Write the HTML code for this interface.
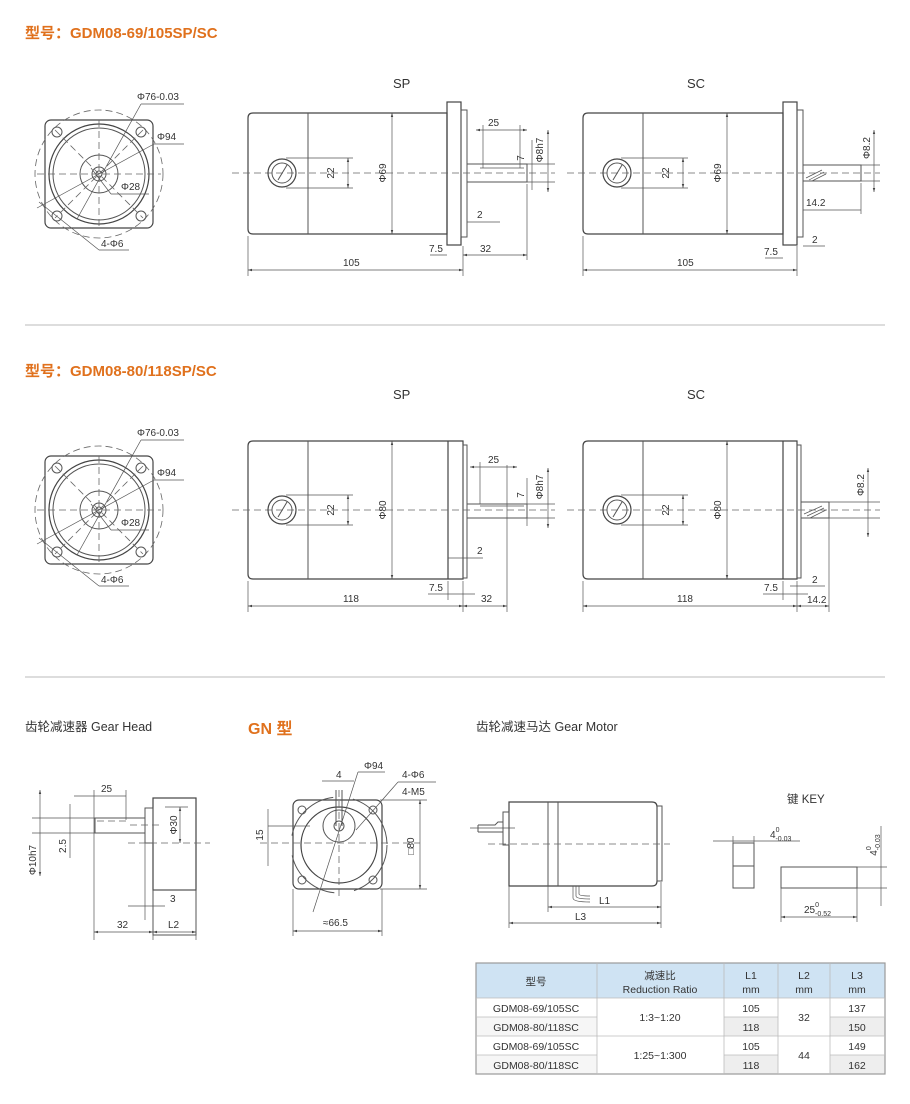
<!DOCTYPE html>
<html><head><meta charset="utf-8"><style>
html,body{margin:0;padding:0;background:#fff;}
svg{display:block;}
text{font-family:"Liberation Sans","Noto Sans CJK SC",sans-serif;fill:#333;}
.t{font-size:10px;}
.ln{stroke:#555;stroke-width:1;fill:none;}
.th{stroke:#444;stroke-width:1.2;fill:none;}
.d{stroke:#666;stroke-width:0.8;fill:none;stroke-dasharray:7 4;}
.dm{stroke:#555;stroke-width:0.7;fill:none;}
.or{fill:#e0711d;font-size:15px;font-weight:bold;}
</style></head><body>
<svg width="910" height="1104" viewBox="0 0 910 1104" xmlns="http://www.w3.org/2000/svg">
<defs>
<marker id="a" viewBox="0 0 10 10" refX="10" refY="5" markerWidth="6" markerHeight="6" orient="auto-start-reverse"><path d="M0,2 L10,5 L0,8 z" fill="#444"/></marker>
<g id="front">
  <rect x="-54" y="-54" width="108" height="108" rx="6" class="th"/>
  <circle r="64" class="d"/>
  <circle r="50" class="th"/><circle r="46" class="ln"/>
  <circle r="19" class="ln"/><circle r="7" class="ln"/><circle r="3" class="ln"/>
  <circle cx="-42" cy="-42" r="5" class="ln"/><circle cx="42" cy="-42" r="5" class="ln"/>
  <circle cx="-42" cy="42" r="5" class="ln"/><circle cx="42" cy="42" r="5" class="ln"/>
  <line x1="-62" y1="0" x2="62" y2="0" class="d"/><line x1="0" y1="-54" x2="0" y2="54" class="d"/>
  <line x1="-44" y1="-44" x2="44" y2="44" class="d"/><line x1="44" y1="-44" x2="-44" y2="44" class="d"/>
  <line x1="-22" y1="45" x2="42" y2="-70" class="dm"/><line x1="42" y1="-70" x2="85" y2="-70" class="dm"/>
  <line x1="-62" y1="34" x2="55" y2="-30" class="dm"/><line x1="55" y1="-30" x2="85" y2="-30" class="dm"/>
  <line x1="-8" y1="-6" x2="12" y2="20" class="dm"/><line x1="12" y1="20" x2="50" y2="20" class="dm"/>
  <line x1="-60" y1="28" x2="0" y2="76" class="dm"/><line x1="0" y1="76" x2="30" y2="76" class="dm"/>
  <text x="38" y="-74" class="t">Φ76-0.03</text>
  <text x="58" y="-34" class="t">Φ94</text>
  <text x="22" y="16" class="t">Φ28</text>
  <text x="2" y="73" class="t">4-Φ6</text>
</g>
</defs>

<!-- Section 1 -->
<text x="25" y="38" class="or">型号：GDM08-69/105SP/SC</text>
<use href="#front" x="99" y="174"/>
<text x="393" y="88" font-size="13">SP</text>
<text x="687" y="88" font-size="13">SC</text>

<g>
<path d="M253,113 H447 V234 H253 Q248,234 248,229 V118 Q248,113 253,113Z" class="th"/>
<line x1="308" y1="113" x2="308" y2="234" class="ln"/>
<line x1="392" y1="113" x2="392" y2="234" class="dm" marker-start="url(#a)" marker-end="url(#a)"/>
<rect x="447" y="102" width="14" height="143" class="th"/><rect x="461" y="110" width="6" height="127" class="ln"/>
<rect x="467" y="164" width="60" height="18" class="ln"/><line x1="480" y1="168" x2="524" y2="168" class="dm"/>
<line x1="232" y1="173" x2="555" y2="173" class="d"/>
<circle cx="282" cy="173" r="14" class="th"/><circle cx="282" cy="173" r="10" class="ln"/>
<line x1="278" y1="180" x2="287" y2="165" class="ln"/>
<line x1="286" y1="158" x2="353" y2="158" class="dm"/><line x1="286" y1="188" x2="353" y2="188" class="dm"/>
<line x1="348" y1="158" x2="348" y2="188" class="dm" marker-start="url(#a)" marker-end="url(#a)"/>
<text transform="translate(334,173) rotate(-90)" text-anchor="middle" class="t">22</text>
<text transform="translate(386,173) rotate(-90)" text-anchor="middle" class="t">Φ69</text>
<line x1="248" y1="236" x2="248" y2="276" class="dm"/><line x1="463" y1="246" x2="463" y2="276" class="dm"/>
<line x1="248" y1="270" x2="463" y2="270" class="dm" marker-start="url(#a)" marker-end="url(#a)"/>
<text x="343" y="266" class="t">105</text>
<line x1="430" y1="255" x2="447" y2="255" class="dm"/><text x="429" y="252" class="t">7.5</text>
<line x1="463" y1="255" x2="527" y2="255" class="dm" marker-start="url(#a)" marker-end="url(#a)"/><text x="480" y="252" class="t">32</text>
<line x1="527" y1="184" x2="527" y2="260" class="dm"/>
<line x1="483" y1="125" x2="483" y2="168" class="dm"/><line x1="520" y1="125" x2="520" y2="168" class="dm"/>
<line x1="476" y1="130" x2="527" y2="130" class="dm" marker-start="url(#a)" marker-end="url(#a)"/><text x="488" y="126" class="t">25</text>
<line x1="467" y1="222" x2="500" y2="222" class="dm"/><text x="477" y="218" class="t">2</text>
<line x1="527" y1="164" x2="555" y2="164" class="dm"/><line x1="527" y1="182" x2="555" y2="182" class="dm"/>
<line x1="532" y1="140" x2="532" y2="190" class="dm"/><line x1="548" y1="130" x2="548" y2="192" class="dm" marker-start="url(#a)" marker-end="url(#a)"/>
<text transform="translate(524,158) rotate(-90)" text-anchor="middle" class="t">7</text>
<text transform="translate(543,150) rotate(-90)" text-anchor="middle" class="t">Φ8h7</text>
</g>

<g>
<path d="M588,113 H783 V234 H588 Q583,234 583,229 V118 Q583,113 588,113Z" class="th"/>
<line x1="643" y1="113" x2="643" y2="234" class="ln"/>
<line x1="727" y1="113" x2="727" y2="234" class="dm" marker-start="url(#a)" marker-end="url(#a)"/>
<rect x="783" y="102" width="14" height="143" class="th"/><rect x="797" y="110" width="6" height="127" class="ln"/>
<rect x="803" y="165" width="58" height="16" class="ln"/>
<path d="M806,178 L822,170 M809,180 L824,172 M812,181 L826,174" class="dm"/>
<line x1="567" y1="173" x2="880" y2="173" class="d"/>
<circle cx="617" cy="173" r="14" class="th"/><circle cx="617" cy="173" r="10" class="ln"/>
<line x1="613" y1="180" x2="622" y2="165" class="ln"/>
<line x1="621" y1="158" x2="688" y2="158" class="dm"/><line x1="621" y1="188" x2="688" y2="188" class="dm"/>
<line x1="683" y1="158" x2="683" y2="188" class="dm" marker-start="url(#a)" marker-end="url(#a)"/>
<text transform="translate(669,173) rotate(-90)" text-anchor="middle" class="t">22</text>
<text transform="translate(721,173) rotate(-90)" text-anchor="middle" class="t">Φ69</text>
<line x1="583" y1="236" x2="583" y2="276" class="dm"/><line x1="797" y1="246" x2="797" y2="276" class="dm"/>
<line x1="583" y1="270" x2="797" y2="270" class="dm" marker-start="url(#a)" marker-end="url(#a)"/>
<text x="677" y="266" class="t">105</text>
<line x1="765" y1="258" x2="783" y2="258" class="dm"/><text x="764" y="255" class="t">7.5</text>
<line x1="803" y1="246" x2="825" y2="246" class="dm"/><text x="812" y="243" class="t">2</text>
<line x1="803" y1="210" x2="861" y2="210" class="dm"/><text x="806" y="206" class="t">14.2</text>
<line x1="861" y1="183" x2="861" y2="214" class="dm"/>
<line x1="861" y1="165" x2="880" y2="165" class="dm"/><line x1="861" y1="181" x2="880" y2="181" class="dm"/>
<line x1="874" y1="130" x2="874" y2="192" class="dm" marker-start="url(#a)" marker-end="url(#a)"/>
<text transform="translate(870,148) rotate(-90)" text-anchor="middle" class="t">Φ8.2</text>
</g>

<line x1="25" y1="325" x2="885" y2="325" stroke="#bbb"/>

<!-- Section 2 -->
<text x="25" y="376" class="or">型号：GDM08-80/118SP/SC</text>
<use href="#front" x="99" y="510"/>
<text x="393" y="399" font-size="13">SP</text>
<text x="687" y="399" font-size="13">SC</text>
<g>
<path d="M253,441 H463 V579 H253 Q248,579 248,574 V446 Q248,441 253,441Z" class="th"/>
<line x1="308" y1="441" x2="308" y2="579" class="ln"/>
<line x1="448" y1="441" x2="448" y2="579" class="th"/>
<rect x="463" y="445" width="4" height="133" class="ln"/>
<line x1="392" y1="441" x2="392" y2="579" class="dm" marker-start="url(#a)" marker-end="url(#a)"/>
<rect x="467" y="504" width="60" height="14" class="ln"/><line x1="480" y1="506" x2="524" y2="506" class="dm"/>
<line x1="232" y1="510" x2="555" y2="510" class="d"/>
<circle cx="282" cy="510" r="14" class="th"/><circle cx="282" cy="510" r="10" class="ln"/>
<line x1="278" y1="517" x2="287" y2="502" class="ln"/>
<line x1="286" y1="495" x2="353" y2="495" class="dm"/><line x1="286" y1="525" x2="353" y2="525" class="dm"/>
<line x1="348" y1="495" x2="348" y2="525" class="dm" marker-start="url(#a)" marker-end="url(#a)"/>
<text transform="translate(334,510) rotate(-90)" text-anchor="middle" class="t">22</text>
<text transform="translate(386,510) rotate(-90)" text-anchor="middle" class="t">Φ80</text>
<line x1="248" y1="581" x2="248" y2="612" class="dm"/><line x1="463" y1="581" x2="463" y2="612" class="dm"/>
<line x1="248" y1="606" x2="463" y2="606" class="dm" marker-start="url(#a)" marker-end="url(#a)"/>
<text x="343" y="602" class="t">118</text>
<line x1="448" y1="581" x2="448" y2="600" class="dm"/>
<line x1="428" y1="594" x2="475" y2="594" class="dm"/><text x="429" y="591" class="t">7.5</text>
<line x1="463" y1="606" x2="507" y2="606" class="dm" marker-start="url(#a)" marker-end="url(#a)"/><text x="481" y="602" class="t">32</text>
<line x1="507" y1="465" x2="507" y2="612" class="dm"/>
<line x1="480" y1="462" x2="480" y2="504" class="dm"/>
<line x1="470" y1="467" x2="517" y2="467" class="dm" marker-start="url(#a)" marker-end="url(#a)"/><text x="488" y="463" class="t">25</text>
<line x1="448" y1="558" x2="483" y2="558" class="dm"/><text x="477" y="554" class="t">2</text>
<line x1="527" y1="504" x2="555" y2="504" class="dm"/><line x1="527" y1="518" x2="555" y2="518" class="dm"/>
<line x1="527" y1="478" x2="527" y2="526" class="dm"/><line x1="548" y1="468" x2="548" y2="528" class="dm" marker-start="url(#a)" marker-end="url(#a)"/>
<text transform="translate(524,495) rotate(-90)" text-anchor="middle" class="t">7</text>
<text transform="translate(543,487) rotate(-90)" text-anchor="middle" class="t">Φ8h7</text>
</g>
<g>
<path d="M588,441 H797 V579 H588 Q583,579 583,574 V446 Q583,441 588,441Z" class="th"/>
<line x1="643" y1="441" x2="643" y2="579" class="ln"/>
<line x1="783" y1="441" x2="783" y2="579" class="th"/>
<rect x="797" y="445" width="4" height="133" class="ln"/>
<line x1="727" y1="441" x2="727" y2="579" class="dm" marker-start="url(#a)" marker-end="url(#a)"/>
<rect x="801" y="502" width="28" height="16" class="ln"/>
<line x1="829" y1="502" x2="829" y2="518" class="ln"/>
<path d="M804,514 L822,506 M807,516 L824,508 M810,518 L826,510" class="dm"/>
<line x1="567" y1="510" x2="880" y2="510" class="d"/>
<circle cx="617" cy="510" r="14" class="th"/><circle cx="617" cy="510" r="10" class="ln"/>
<line x1="613" y1="517" x2="622" y2="502" class="ln"/>
<line x1="621" y1="495" x2="688" y2="495" class="dm"/><line x1="621" y1="525" x2="688" y2="525" class="dm"/>
<line x1="683" y1="495" x2="683" y2="525" class="dm" marker-start="url(#a)" marker-end="url(#a)"/>
<text transform="translate(669,510) rotate(-90)" text-anchor="middle" class="t">22</text>
<text transform="translate(721,510) rotate(-90)" text-anchor="middle" class="t">Φ80</text>
<line x1="583" y1="581" x2="583" y2="612" class="dm"/><line x1="797" y1="581" x2="797" y2="612" class="dm"/>
<line x1="583" y1="606" x2="797" y2="606" class="dm" marker-start="url(#a)" marker-end="url(#a)"/>
<text x="677" y="602" class="t">118</text>
<line x1="783" y1="581" x2="783" y2="600" class="dm"/>
<line x1="763" y1="594" x2="808" y2="594" class="dm"/><text x="764" y="591" class="t">7.5</text>
<line x1="790" y1="586" x2="825" y2="586" class="dm"/><text x="812" y="583" class="t">2</text>
<line x1="797" y1="606" x2="829" y2="606" class="dm" marker-start="url(#a)" marker-end="url(#a)"/><text x="807" y="603" class="t">14.2</text>
<line x1="829" y1="518" x2="829" y2="612" class="dm"/>
<line x1="829" y1="502" x2="880" y2="502" class="dm"/><line x1="829" y1="518" x2="880" y2="518" class="dm"/>
<line x1="868" y1="468" x2="868" y2="537" class="dm" marker-start="url(#a)" marker-end="url(#a)"/>
<text transform="translate(864,485) rotate(-90)" text-anchor="middle" class="t">Φ8.2</text>
</g>

<line x1="25" y1="677" x2="885" y2="677" stroke="#bbb"/>

<!-- Section 3 -->
<text x="25" y="731" font-size="12.5">齿轮减速器 Gear Head</text>
<text x="248" y="734" font-size="16" font-weight="bold" style="fill:#e0711d">GN 型</text>
<text x="476" y="731" font-size="12.5">齿轮减速马达 Gear Motor</text>

<g>
<rect x="153" y="798" width="43" height="92" class="th"/>
<rect x="153" y="890" width="43" height="45" class="ln"/>
<rect x="145" y="808" width="8" height="35" class="ln"/>
<line x1="145" y1="808" x2="145" y2="920" class="dm"/>
<rect x="95" y="818" width="50" height="15" class="ln"/>
<line x1="97" y1="821" x2="130" y2="821" class="d"/><line x1="130" y1="825" x2="160" y2="825" class="d"/>
<line x1="128" y1="843" x2="210" y2="843" class="d"/>
<line x1="32" y1="818" x2="95" y2="818" class="dm"/><line x1="32" y1="833" x2="95" y2="833" class="dm"/>
<line x1="40" y1="790" x2="40" y2="876" class="dm" marker-start="url(#a)" marker-end="url(#a)"/>
<text transform="translate(36,860) rotate(-90)" text-anchor="middle" class="t">Φ10h7</text>
<line x1="70" y1="804" x2="70" y2="858" class="dm"/>
<text transform="translate(66,846) rotate(-90)" text-anchor="middle" class="t">2.5</text>
<line x1="74" y1="796" x2="126" y2="796" class="dm"/><text x="101" y="792" class="t">25</text>
<line x1="94" y1="790" x2="94" y2="940" class="dm"/><line x1="126" y1="790" x2="126" y2="820" class="dm"/>
<line x1="180" y1="807" x2="180" y2="843" class="dm" marker-start="url(#a)" marker-end="url(#a)"/>
<line x1="165" y1="807" x2="188" y2="807" class="dm"/>
<text transform="translate(177,825) rotate(-90)" text-anchor="middle" class="t">Φ30</text>
<line x1="128" y1="906" x2="165" y2="906" class="dm"/><text x="170" y="902" class="t">3</text>
<line x1="94" y1="932" x2="153" y2="932" class="dm" marker-start="url(#a)" marker-end="url(#a)"/><text x="117" y="928" class="t">32</text>
<line x1="153" y1="932" x2="196" y2="932" class="dm" marker-start="url(#a)" marker-end="url(#a)"/><text x="168" y="928" class="t">L2</text>
<line x1="153" y1="935" x2="153" y2="940" class="dm"/><line x1="196" y1="935" x2="196" y2="940" class="dm"/>
</g>

<g>
<rect x="293" y="800" width="89" height="89" rx="6" class="th"/>
<circle cx="339" cy="845" r="48" class="ln" stroke-dasharray="60 20"/>
<circle cx="339" cy="845" r="38" class="th"/>
<circle cx="339" cy="826" r="16" class="ln"/><circle cx="339" cy="826" r="5" class="ln"/>
<circle cx="302" cy="810" r="4" class="ln"/><circle cx="373" cy="810" r="4" class="ln"/>
<circle cx="302" cy="880" r="4" class="ln"/><circle cx="373" cy="880" r="4" class="ln"/>
<line x1="260" y1="843" x2="420" y2="843" class="d"/><line x1="339" y1="790" x2="339" y2="900" class="d"/>
<line x1="336" y1="790" x2="336" y2="826" class="ln"/><line x1="342" y1="790" x2="342" y2="826" class="ln"/>
<line x1="322" y1="781" x2="354" y2="781" class="dm"/><text x="336" y="778" class="t">4</text>
<line x1="313" y1="912" x2="358" y2="772" class="dm"/><line x1="358" y1="772" x2="385" y2="772" class="dm"/><text x="364" y="769" class="t">Φ94</text>
<line x1="356" y1="830" x2="398" y2="782" class="dm"/><line x1="398" y1="782" x2="436" y2="782" class="dm"/><text x="402" y="778" class="t">4-Φ6</text>
<line x1="380" y1="800" x2="427" y2="800" class="dm"/><text x="402" y="795" class="t">4-M5</text>
<line x1="268" y1="826" x2="310" y2="826" class="dm"/>
<line x1="268" y1="809" x2="268" y2="866" class="dm"/>
<text transform="translate(263,835) rotate(-90)" text-anchor="middle" class="t">15</text>
<line x1="380" y1="889" x2="427" y2="889" class="dm"/>
<line x1="420" y1="800" x2="420" y2="889" class="dm" marker-start="url(#a)" marker-end="url(#a)"/>
<text transform="translate(414,846) rotate(-90)" text-anchor="middle" class="t">□80</text>
<line x1="293" y1="889" x2="293" y2="936" class="dm"/><line x1="382" y1="889" x2="382" y2="936" class="dm"/>
<line x1="293" y1="931" x2="382" y2="931" class="dm" marker-start="url(#a)" marker-end="url(#a)"/><text x="323" y="926" class="t">≈66.5</text>
</g>

<g>
<path d="M509,802 H652 Q657,802 657,807 V881 Q657,886 652,886 H509 Z" class="th"/>
<rect x="657" y="806" width="5" height="75" class="ln"/>
<line x1="548" y1="802" x2="548" y2="886" class="ln"/><line x1="558" y1="802" x2="558" y2="886" class="ln"/>
<rect x="503" y="812" width="6" height="33" class="ln"/>
<path d="M478,825 H495 L498,822 H503 M478,832 H503 M478,825 V832" class="ln"/>
<line x1="470" y1="828" x2="515" y2="828" class="dm"/>
<line x1="488" y1="844" x2="670" y2="844" class="d"/>
<path d="M573,886 V898 Q573,902 590,902 M576,886 V896 Q576,899 590,899 M579,886 V894 Q579,896 590,896" class="dm"/>
<line x1="509" y1="886" x2="509" y2="928" class="dm"/><line x1="548" y1="886" x2="548" y2="912" class="dm"/><line x1="661" y1="882" x2="661" y2="928" class="dm"/>
<line x1="548" y1="907" x2="661" y2="907" class="dm" marker-start="url(#a)" marker-end="url(#a)"/><text x="599" y="904" class="t">L1</text>
<line x1="509" y1="923" x2="661" y2="923" class="dm" marker-start="url(#a)" marker-end="url(#a)"/><text x="575" y="920" class="t">L3</text>
</g>

<g>
<text x="787" y="803" font-size="11.5">键  KEY</text>
<rect x="733" y="843" width="21" height="45" class="ln"/><line x1="733" y1="866" x2="754" y2="866" class="ln"/>
<line x1="733" y1="836" x2="733" y2="843" class="dm"/><line x1="754" y1="836" x2="754" y2="843" class="dm"/>
<line x1="713" y1="841" x2="800" y2="841" class="dm"/>
<text x="770" y="838" class="t">4<tspan font-size="7" dy="-6">0</tspan><tspan font-size="7" dx="-4" dy="9">-0.03</tspan></text>
<rect x="781" y="867" width="76" height="21" class="ln"/>
<line x1="857" y1="867" x2="887" y2="867" class="dm"/><line x1="857" y1="888" x2="887" y2="888" class="dm"/>
<line x1="881" y1="826" x2="881" y2="906" class="dm"/>
<text transform="translate(877,845) rotate(-90)" class="t" text-anchor="middle">4<tspan font-size="7" dy="-6">0</tspan><tspan font-size="7" dx="-4" dy="9">-0.03</tspan></text>
<line x1="781" y1="888" x2="781" y2="922" class="dm"/><line x1="857" y1="888" x2="857" y2="922" class="dm"/>
<line x1="781" y1="917" x2="857" y2="917" class="dm" marker-start="url(#a)" marker-end="url(#a)"/>
<text x="804" y="913" class="t">25<tspan font-size="7" dy="-6">0</tspan><tspan font-size="7" dx="-4" dy="9">-0.52</tspan></text>
</g>

<g font-size="10.5">
<rect x="476" y="963" width="409" height="35" fill="#cfe3f3"/>
<rect x="724" y="1017" width="54" height="19" fill="#eeeeee"/>
<rect x="830" y="1017" width="55" height="19" fill="#eeeeee"/>
<rect x="724" y="1055" width="54" height="19" fill="#eeeeee"/>
<rect x="830" y="1055" width="55" height="19" fill="#eeeeee"/>
<rect x="476" y="1017" width="121" height="19" fill="#f6f6f6"/>
<rect x="476" y="1055" width="121" height="19" fill="#f6f6f6"/>
<rect x="476" y="963" width="409" height="111" fill="none" stroke="#9a9a9a" stroke-width="1.2"/>
<g stroke="#bbb" stroke-width="0.8">
<line x1="597" y1="963" x2="597" y2="1074"/><line x1="724" y1="963" x2="724" y2="1074"/>
<line x1="778" y1="963" x2="778" y2="1074"/><line x1="830" y1="963" x2="830" y2="1074"/>
<line x1="476" y1="998" x2="885" y2="998"/>
<line x1="476" y1="1017" x2="597" y2="1017"/><line x1="724" y1="1017" x2="778" y2="1017"/><line x1="830" y1="1017" x2="885" y2="1017"/>
<line x1="476" y1="1036" x2="885" y2="1036"/>
<line x1="476" y1="1055" x2="597" y2="1055"/><line x1="724" y1="1055" x2="778" y2="1055"/><line x1="830" y1="1055" x2="885" y2="1055"/>
</g>
<g text-anchor="middle">
<text x="536" y="985">型号</text>
<text x="660" y="979">减速比</text><text x="660" y="993">Reduction Ratio</text>
<text x="751" y="979">L1</text><text x="751" y="993">mm</text>
<text x="804" y="979">L2</text><text x="804" y="993">mm</text>
<text x="857" y="979">L3</text><text x="857" y="993">mm</text>
<text x="536" y="1012">GDM08-69/105SC</text><text x="536" y="1031">GDM08-80/118SC</text>
<text x="536" y="1050">GDM08-69/105SC</text><text x="536" y="1069">GDM08-80/118SC</text>
<text x="660" y="1021">1:3~1:20</text><text x="660" y="1059">1:25~1:300</text>
<text x="751" y="1012">105</text><text x="751" y="1031">118</text><text x="751" y="1050">105</text><text x="751" y="1069">118</text>
<text x="804" y="1021">32</text><text x="804" y="1059">44</text>
<text x="857" y="1012">137</text><text x="857" y="1031">150</text><text x="857" y="1050">149</text><text x="857" y="1069">162</text>
</g>
</g>
</svg>
</body></html>
